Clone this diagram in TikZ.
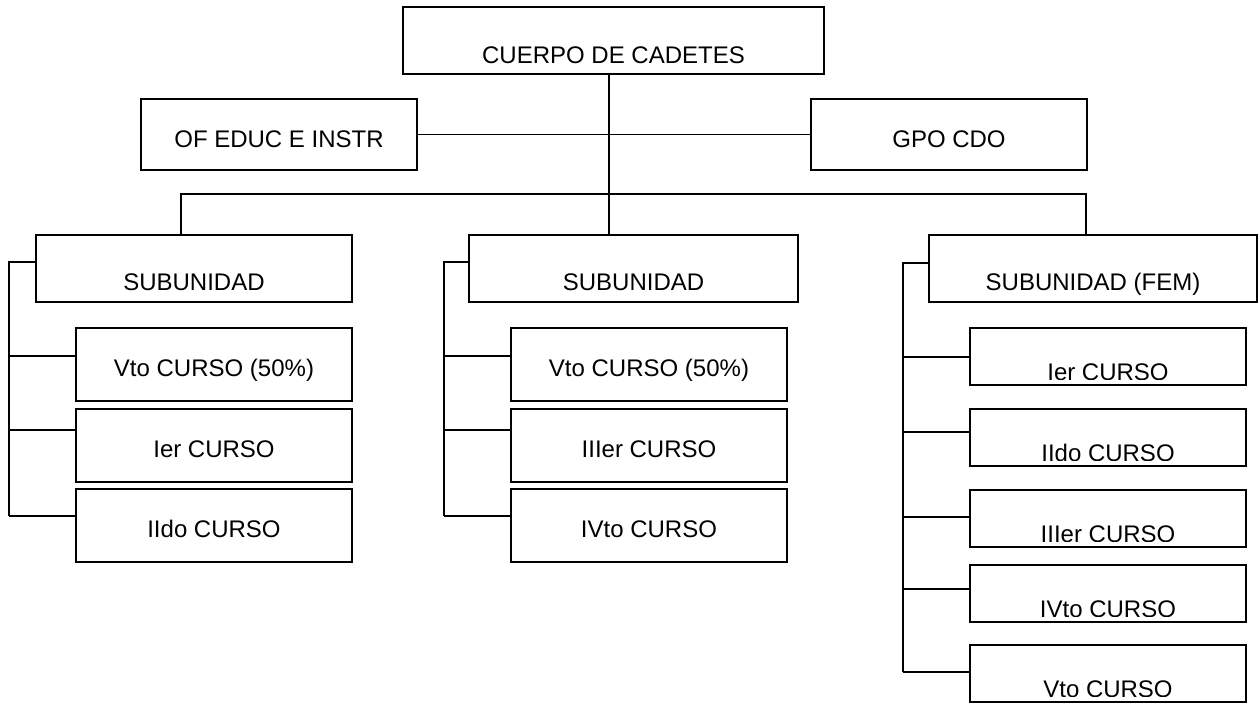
\documentclass[tikz,border=0pt]{standalone}
\usepackage{fontspec}
\setmainfont{Liberation Sans}

\tikzset{
    box/.style={draw, line width=0.9pt, inner sep=0pt, outer sep=0pt, anchor=north west,
        font=\fontsize{12}{14}\selectfont},
    topbox/.style={box, minimum width=210.5pt, text height=28.5pt, text depth=5pt},
    sidebox/.style={box, minimum width=138pt, text height=24.5pt, text depth=11pt},
    subbox/.style={box, minimum width=#1, text height=28pt, text depth=5.5pt},
    cursobox/.style={box, minimum width=138pt, text height=24.5pt, text depth=12pt},
    fembox/.style={box, minimum width=138pt, text height=26.5pt, text depth=2pt},
    link/.style={line width=0.9pt}
}

\begin{document}
\begin{tikzpicture}[x=0.5pt, y=-0.5pt]
    \useasboundingbox (0,0) rectangle (1258,704);

    \node[topbox] (cuerpo) at (403,7) {CUERPO DE CADETES};
    \node[sidebox] (ofeduc) at (141,99) {OF EDUC E INSTR};
    \node[sidebox] (gpocdo) at (811,99) {GPO CDO};

    \node[subbox=158pt] (sub1) at (36,235) {SUBUNIDAD};
    \node[subbox=164.5pt] (sub2) at (469,235) {SUBUNIDAD};
    \node[subbox=164pt] (sub3) at (929,235) {SUBUNIDAD (FEM)};

    \node[cursobox] (c11) at (76,328) {Vto CURSO (50\%)};
    \node[cursobox] (c12) at (76,409) {Ier CURSO};
    \node[cursobox] (c13) at (76,489) {IIdo CURSO};

    \node[cursobox] (c21) at (511,328) {Vto CURSO (50\%)};
    \node[cursobox] (c22) at (511,409) {IIIer CURSO};
    \node[cursobox] (c23) at (511,489) {IVto CURSO};

    \node[fembox] (c31) at (970,328) {Ier CURSO};
    \node[fembox] (c32) at (970,409) {IIdo CURSO};
    \node[fembox] (c33) at (970,490) {IIIer CURSO};
    \node[fembox] (c34) at (970,565) {IVto CURSO};
    \node[fembox] (c35) at (970,645) {Vto CURSO};

    % bottom of the text in the FEM boxes is cut off
    \foreach \n in {c31,c32,c33,c34,c35}
        \fill[white] ([xshift=0.5pt,yshift=0.5pt]\n.south west) rectangle ([xshift=-0.5pt,yshift=2.6pt]\n.south east);

    \coordinate (bus) at (609,194);
    \coordinate (busl) at (181,194);
    \coordinate (busr) at (1086,194);
    \coordinate (sp1) at (9,262);
    \coordinate (sp2) at (444,262);
    \coordinate (sp3) at (903,263);

    \draw[link] (cuerpo.south -| bus) -- (sub2.north -| bus);
    \draw[link] (ofeduc.east) -- (gpocdo.west);
    \draw[link] (sub1.north -| busl) -- (busl) -- (busr) -- (sub3.north -| busr);

    \draw[link] (sub1.west |- sp1) -- (sp1) -- (sp1 |- 0,516);
    \foreach \n/\y in {c11/356, c12/430, c13/516}
        \draw[link] (sp1 |- 0,\y) -- (\n.west |- 0,\y);

    \draw[link] (sub2.west |- sp2) -- (sp2) -- (sp2 |- 0,516);
    \foreach \n/\y in {c21/356, c22/430, c23/516}
        \draw[link] (sp2 |- 0,\y) -- (\n.west |- 0,\y);

    \draw[link] (sub3.west |- sp3) -- (sp3) -- (sp3 |- 0,672);
    \foreach \n/\y in {c31/357, c32/432, c33/517, c34/589, c35/672}
        \draw[link] (sp3 |- 0,\y) -- (\n.west |- 0,\y);

\end{tikzpicture}
\end{document}
